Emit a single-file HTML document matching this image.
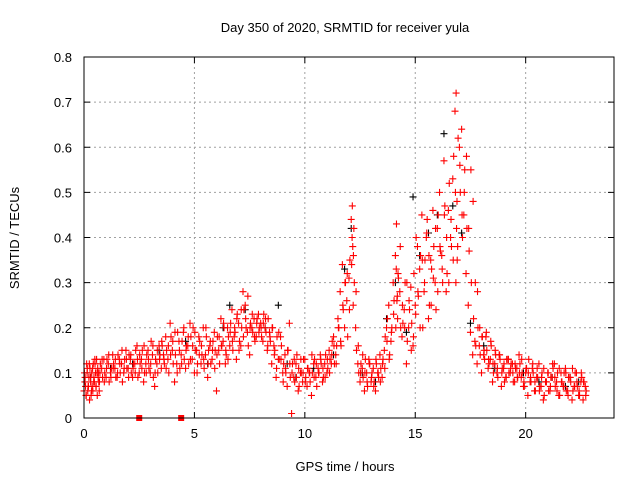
<!DOCTYPE html>
<html><head><meta charset="utf-8"><style>
body{margin:0;background:#fff}
svg{display:block;font-family:"Liberation Sans",sans-serif}
</style></head><body>
<svg id="chart" width="640" height="480">
<rect width="640" height="480" fill="#fff"/>
<text x="345" y="32" text-anchor="middle" font-size="13">Day 350 of 2020, SRMTID for receiver yula</text>
<text transform="translate(19,238) rotate(-90)" text-anchor="middle" font-size="13">SRMTID / TECUs</text>
<text x="345" y="471" text-anchor="middle" font-size="13">GPS time / hours</text>
<g id="grid"></g>
<g id="ticks"></g>
<g id="black"></g>
<g id="red"></g>
<rect x="84" y="57" width="530" height="361" fill="none" stroke="#000" stroke-width="1"/>
</svg>
<script>
const xTicks=[0,5,10,15,20];
const yTicks=[0,0.1,0.2,0.3,0.4,0.5,0.6,0.7,0.8];
const yTickLabels=["0","0.1","0.2","0.3","0.4","0.5","0.6","0.7","0.8"];
const gapMarks=[2.5,4.4];
const redT=[0,0.05,0.1,0.15,0.2,0.25,0.3,0.35,0.4,0.45,0.5,0.55,0.6,0.65,0.7,0.8,0.9,1.0,1.1,1.2,1.3,1.4,1.5,1.6,1.7,1.8,1.9,2.0,2.1,2.2,2.3,2.4,2.5,2.6,2.7,2.8,2.9,3.0,3.1,3.2,3.3,3.4,3.5,3.6,3.7,3.8,3.9,4.0,4.1,4.2,4.3,4.4,4.5,4.6,4.7,4.8,4.9,5.0,5.1,5.2,5.3,5.4,5.5,5.6,5.7,5.8,5.9,6.0,6.1,6.2,6.3,6.4,6.5,6.6,6.7,6.8,6.9,7.0,7.1,7.2,7.3,7.4,7.5,7.6,7.7,7.8,7.9,8.0,8.1,8.2,8.3,8.4,8.5,8.6,8.7,8.8,8.9,9.0,9.1,9.2,9.3,9.4,9.5,9.6,9.7,9.8,9.9,10.0,10.1,10.2,10.3,10.4,10.5,10.6,10.7,10.8,10.9,11.0,11.1,11.2,11.3,11.4,11.5,11.6,11.7,11.8,11.9,12.0,12.1,12.15,12.2,12.3,12.4,12.5,12.6,12.7,12.8,12.9,13.0,13.1,13.2,13.3,13.4,13.5,13.6,13.7,13.8,13.9,14.0,14.1,14.15,14.2,14.3,14.4,14.5,14.6,14.7,14.8,14.9,15.0,15.1,15.2,15.3,15.4,15.5,15.6,15.7,15.8,15.9,16.0,16.1,16.2,16.3,16.4,16.5,16.6,16.7,16.8,16.85,16.9,17.0,17.1,17.2,17.3,17.4,17.5,17.6,17.7,17.8,17.9,18.0,18.1,18.2,18.3,18.4,18.5,18.6,18.7,18.8,18.9,19.0,19.1,19.2,19.3,19.4,19.5,19.6,19.7,19.8,19.9,20.0,20.1,20.2,20.3,20.4,20.5,20.6,20.7,20.8,20.9,21.0,21.1,21.2,21.3,21.4,21.5,21.6,21.7,21.8,21.9,22.0,22.1,22.2,22.3,22.4,22.5,22.6,22.7];
const redV=[.06,.09,.05,.11,.07,.04,.08,.1,.06,.09,.12,.07,.05,.1,.08,.11,.13,.09,.12,.1,.14,.11,.09,.13,.12,.1,.15,.11,.13,.09,.12,.16,.1,.13,.08,.12,.15,.1,.14,.07,.12,.16,.11,.14,.18,.13,.21,.15,.08,.12,.17,.14,.19,.11,.16,.21,.13,.1,.15,.18,.12,.2,.14,.09,.16,.13,.19,.06,.15,.22,.17,.12,.2,.16,.24,.18,.13,.21,.16,.28,.25,.19,.14,.2,.22,.18,.23,.21,.17,.2,.15,.19,.12,.16,.09,.13,.18,.1,.14,.07,.21,.01,.09,.12,.06,.1,.08,.13,.07,.1,.05,.12,.09,.11,.14,.08,.12,.1,.15,.12,.18,.14,.22,.28,.34,.2,.26,.31,.44,.47,.36,.2,.12,.08,.11,.06,.1,.13,.08,.11,.06,.1,.14,.09,.15,.2,.25,.17,.3,.36,.43,.22,.28,.18,.24,.12,.2,.29,.16,.25,.38,.33,.45,.28,.4,.22,.35,.46,.3,.42,.5,.36,.57,.28,.46,.4,.53,.68,.72,.35,.6,.64,.45,.32,.25,.19,.14,.17,.12,.16,.1,.14,.18,.11,.13,.08,.12,.1,.14,.07,.11,.09,.13,.1,.12,.08,.11,.14,.09,.07,.1,.05,.08,.11,.06,.09,.12,.07,.04,.08,.1,.06,.09,.12,.08,.05,.1,.07,.11,.06,.09,.04,.07,.1,.05,.08,.04,.07];
const red2V=[.08,.05,.1,.07,.12,.09,.06,.11,.08,.13,.07,.1,.09,.06,.12,.09,.1,.13,.08,.11,.12,.09,.14,.1,.08,.13,.11,.14,.1,.12,.15,.09,.12,.15,.1,.14,.11,.17,.09,.13,.1,.14,.16,.12,.15,.1,.18,.12,.14,.19,.11,.17,.13,.16,.12,.18,.2,.15,.12,.17,.14,.11,.18,.15,.12,.17,.15,.18,.12,.16,.2,.14,.18,.21,.15,.19,.23,.17,.2,.24,.2,.16,.21,.19,.17,.22,.2,.18,.23,.19,.22,.17,.2,.15,.18,.13,.16,.12,.1,.15,.09,.12,.08,.14,.07,.1,.13,.09,.11,.08,.1,.13,.07,.1,.12,.09,.14,.11,.13,.17,.12,.16,.2,.16,.24,.3,.18,.35,.4,.25,.3,.15,.1,.12,.09,.13,.07,.12,.1,.08,.12,.09,.11,.13,.18,.22,.14,.2,.26,.33,.27,.31,.2,.21,.3,.17,.24,.21,.32,.4,.27,.36,.2,.35,.44,.25,.33,.38,.24,.45,.37,.3,.47,.32,.52,.38,.58,.3,.48,.62,.5,.4,.55,.42,.37,.3,.22,.16,.2,.14,.18,.13,.15,.12,.16,.1,.14,.09,.13,.11,.08,.13,.1,.12,.08,.11,.09,.12,.1,.07,.11,.13,.08,.1,.06,.09,.07,.1,.05,.08,.06,.09,.11,.07,.1,.05,.08,.1,.06,.09,.08,.06,.1,.07,.05,.09,.08,.06,.04,.06];
const red3V=[.1,.07,.12,.06,.09,.11,.05,.07,.12,.08,.1,.13,.11,.08,.1,.13,.08,.11,.14,.09,.11,.13,.1,.12,.15,.11,.13,.09,.14,.11,.1,.13,.14,.11,.16,.1,.13,.12,.16,.1,.15,.13,.17,.13,.11,.16,.14,.17,.19,.1,.15,.12,.2,.15,.18,.13,.16,.19,.1,.14,.16,.13,.2,.12,.17,.15,.11,.14,.18,.16,.21,.15,.13,.19,.17,.2,.22,.15,.24,.18,.22,.27,.2,.23,.18,.21,.19,.2,.21,.22,.16,.18,.2,.14,.11,.19,.13,.08,.11,.15,.12,.1,.13,.09,.11,.13,.1,.08,.11,.1,.14,.09,.12,.1,.13,.11,.09,.13,.1,.14,.16,.12,.2,.17,.25,.3,.32,.24,.34,.38,.42,.28,.16,.1,.14,.1,.08,.12,.09,.07,.13,.1,.08,.12,.11,.17,.13,.19,.23,.2,.26,.32,.38,.25,.2,.3,.26,.15,.18,.23,.28,.2,.35,.3,.41,.36,.25,.31,.42,.28,.38,.33,.45,.4,.3,.44,.35,.5,.42,.38,.56,.45,.5,.58,.42,.55,.48,.3,.28,.2,.18,.15,.19,.13,.17,.12,.15,.11,.14,.1,.12,.09,.13,.11,.1,.12,.09,.1,.13,.08,.11,.1,.09,.12,.08,.11,.06,.09,.11,.08,.1,.07,.12,.09,.06,.11,.08,.07,.1,.05,.09,.11,.07,.08,.06,.1,.08,.05,.09,.06,.08,.07,.05];
const blackT=[0.3,1.2,2.2,3.4,4.6,5.6,6.3,6.6,7.3,8.2,8.8,9.2,9.6,10.4,11.3,11.8,12.1,12.6,13.2,13.7,14.1,14.6,14.9,15.2,15.6,16.0,16.3,16.7,17.1,17.5,18.1,18.6,19.2,19.9,20.6,21.2,21.8,22.4];
const blackV=[.09,.11,.12,.15,.17,.12,.2,.25,.24,.2,.25,.12,.09,.11,.14,.33,.42,.1,.08,.22,.3,.19,.49,.36,.41,.45,.63,.47,.41,.21,.16,.11,.13,.1,.08,.09,.07,.08];

const X0=84,X1=614,Y0=418,Y1=57,XMAX=24,YMAX=0.8;
const xs=v=>X0+(X1-X0)*v/XMAX;
const ys=v=>Y0-(Y0-Y1)*v/YMAX;
const NS="http://www.w3.org/2000/svg";
function mk(tag,attrs,parent){const e=document.createElementNS(NS,tag);for(const k in attrs)e.setAttribute(k,attrs[k]);parent.appendChild(e);return e;}
const grid=document.getElementById('grid'),ticks=document.getElementById('ticks');
xTicks.forEach(t=>{
  const x=xs(t);
  if(t>0){const g=mk('line',{x1:x,x2:x,y1:Y1,y2:Y0,stroke:'#a0a0a0','stroke-dasharray':'2,3'},grid);
  
  }
  mk('line',{x1:x,x2:x,y1:Y0,y2:Y0-6,stroke:'#000'},ticks);
  mk('line',{x1:x,x2:x,y1:Y1,y2:Y1+6,stroke:'#000'},ticks);
  const l=mk('text',{x:x,y:Y0+20,'text-anchor':'middle','font-size':13},ticks);l.textContent=t;
  
  
});
yTicks.forEach((t,i)=>{
  const y=ys(t);
  if(i>0&&i<yTicks.length-1){const g=mk('line',{x1:X0,x2:X1,y1:y,y2:y,stroke:'#a0a0a0','stroke-dasharray':'2,3'},grid);
  
  }
  mk('line',{x1:X0,x2:X0+6,y1:y,y2:y,stroke:'#000'},ticks);
  mk('line',{x1:X1,x2:X1-6,y1:y,y2:y,stroke:'#000'},ticks);
  const l=mk('text',{x:X0-12,y:y+5,'text-anchor':'end','font-size':13},ticks);l.textContent=yTickLabels[i];
  
  
});
function plus(g,t,v,color,name){
  const x=xs(t),y=ys(v);
  const p=mk('path',{d:`M${x-3.5},${y}h7M${x},${y-3.5}v7`,stroke:color,'stroke-width':1.1,fill:'none'},g);
  
  
}
const bg=document.getElementById('black'),rg=document.getElementById('red');
blackT.forEach((t,i)=>plus(bg,t,blackV[i],'#000','black-point'));
redT.forEach((t,i)=>plus(rg,t,redV[i],'#f00','red-point'));
redT.forEach((t,i)=>plus(rg,t+0.04,red2V[i],'#f00','red-point'));
redT.forEach((t,i)=>plus(rg,t+0.02,red3V[i],'#f00','red-point'));
gapMarks.forEach(t=>{
  const r=mk('rect',{x:xs(t)-3,y:Y0-3,width:6,height:6,fill:'#f00'},rg);
  
  
});
</script>
</body></html>
